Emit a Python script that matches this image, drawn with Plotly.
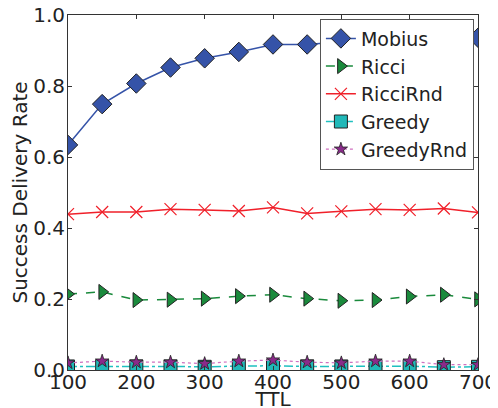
import plotly.graph_objects as go

ttl = [100, 150, 200, 250, 300, 350, 400, 450, 500, 550, 600, 650, 700]
mobius = [0.634, 0.749, 0.807, 0.852, 0.878, 0.896, 0.917, 0.917, 0.925, 0.928, 0.930, 0.932, 0.936]
ricci = [0.214, 0.220, 0.197, 0.198, 0.201, 0.208, 0.212, 0.201, 0.195, 0.197, 0.207, 0.212, 0.199]
ricci_rnd = [0.439, 0.445, 0.445, 0.453, 0.451, 0.448, 0.458, 0.441, 0.447, 0.453, 0.451, 0.455, 0.444]
greedy = [0.010, 0.011, 0.010, 0.010, 0.009, 0.011, 0.012, 0.010, 0.010, 0.011, 0.011, 0.008, 0.009]
greedy_rnd = [0.020, 0.025, 0.022, 0.022, 0.018, 0.025, 0.028, 0.022, 0.020, 0.025, 0.025, 0.015, 0.015]

fig = go.Figure()
fig.add_trace(go.Scatter(x=ttl, y=mobius, name="Mobius", mode="lines+markers",
                         line=dict(color="#3553a8", width=1.5),
                         marker=dict(symbol="diamond", size=15, color="#3553a8",
                                     line=dict(color="#222", width=1))))
fig.add_trace(go.Scatter(x=ttl, y=ricci, name="Ricci", mode="lines+markers",
                         line=dict(color="#1a8a3c", width=1.5, dash="dash"),
                         marker=dict(symbol="triangle-right", size=13, color="#1a8a3c",
                                     line=dict(color="#222", width=1))))
fig.add_trace(go.Scatter(x=ttl, y=ricci_rnd, name="RicciRnd", mode="lines+markers",
                         line=dict(color="#f0202a", width=1.5),
                         marker=dict(symbol="x-thin", size=12, color="#f0202a",
                                     line=dict(color="#f0202a", width=1.2))))
fig.add_trace(go.Scatter(x=ttl, y=greedy, name="Greedy", mode="lines+markers",
                         line=dict(color="#20c0c0", width=1.5, dash="dashdot"),
                         marker=dict(symbol="square", size=13, color="#20b8b8",
                                     line=dict(color="#222", width=1))))
fig.add_trace(go.Scatter(x=ttl, y=greedy_rnd, name="GreedyRnd", mode="lines+markers",
                         line=dict(color="#d070c0", width=1.2, dash="dot"),
                         marker=dict(symbol="star", size=10, color="#8a2a8a",
                                     line=dict(color="#222", width=0.8))))

axis_common = dict(showline=True, linecolor="#333", linewidth=1, mirror="ticks",
                   ticks="inside", ticklen=4, tickcolor="#333", showgrid=False,
                   zeroline=False, tickfont=dict(size=20, color="#222"), automargin=False,
                   ticklabeloverflow="allow")
fig.update_xaxes(range=[100, 700], tickvals=[100, 200, 300, 400, 500, 600, 700],
                 ticklabelstandoff=-6,
                 title=dict(text="TTL", font=dict(size=20, color="#222"), standoff=0),
                 **axis_common)
fig.update_yaxes(range=[0, 1.0], tickvals=[0, 0.2, 0.4, 0.6, 0.8, 1.0],
                 ticktext=["0.0", "0.2", "0.4", "0.6", "0.8", "1.0"],
                 ticklabelstandoff=-2,
                 title=dict(text="Success Delivery Rate", font=dict(size=20, color="#222"), standoff=3),
                 **axis_common)
fig.update_layout(width=490, height=403, margin=dict(l=60, r=20, t=7, b=41),
                  paper_bgcolor="white", plot_bgcolor="white",
                  font=dict(family="DejaVu Sans", color="#222"),
                  legend=dict(x=0.99, y=0.99, xanchor="right", yanchor="top",
                              bgcolor="white", bordercolor="#555", borderwidth=1,
                              font=dict(size=19), tracegroupgap=0, itemwidth=30))
fig.write_html("out.html")
